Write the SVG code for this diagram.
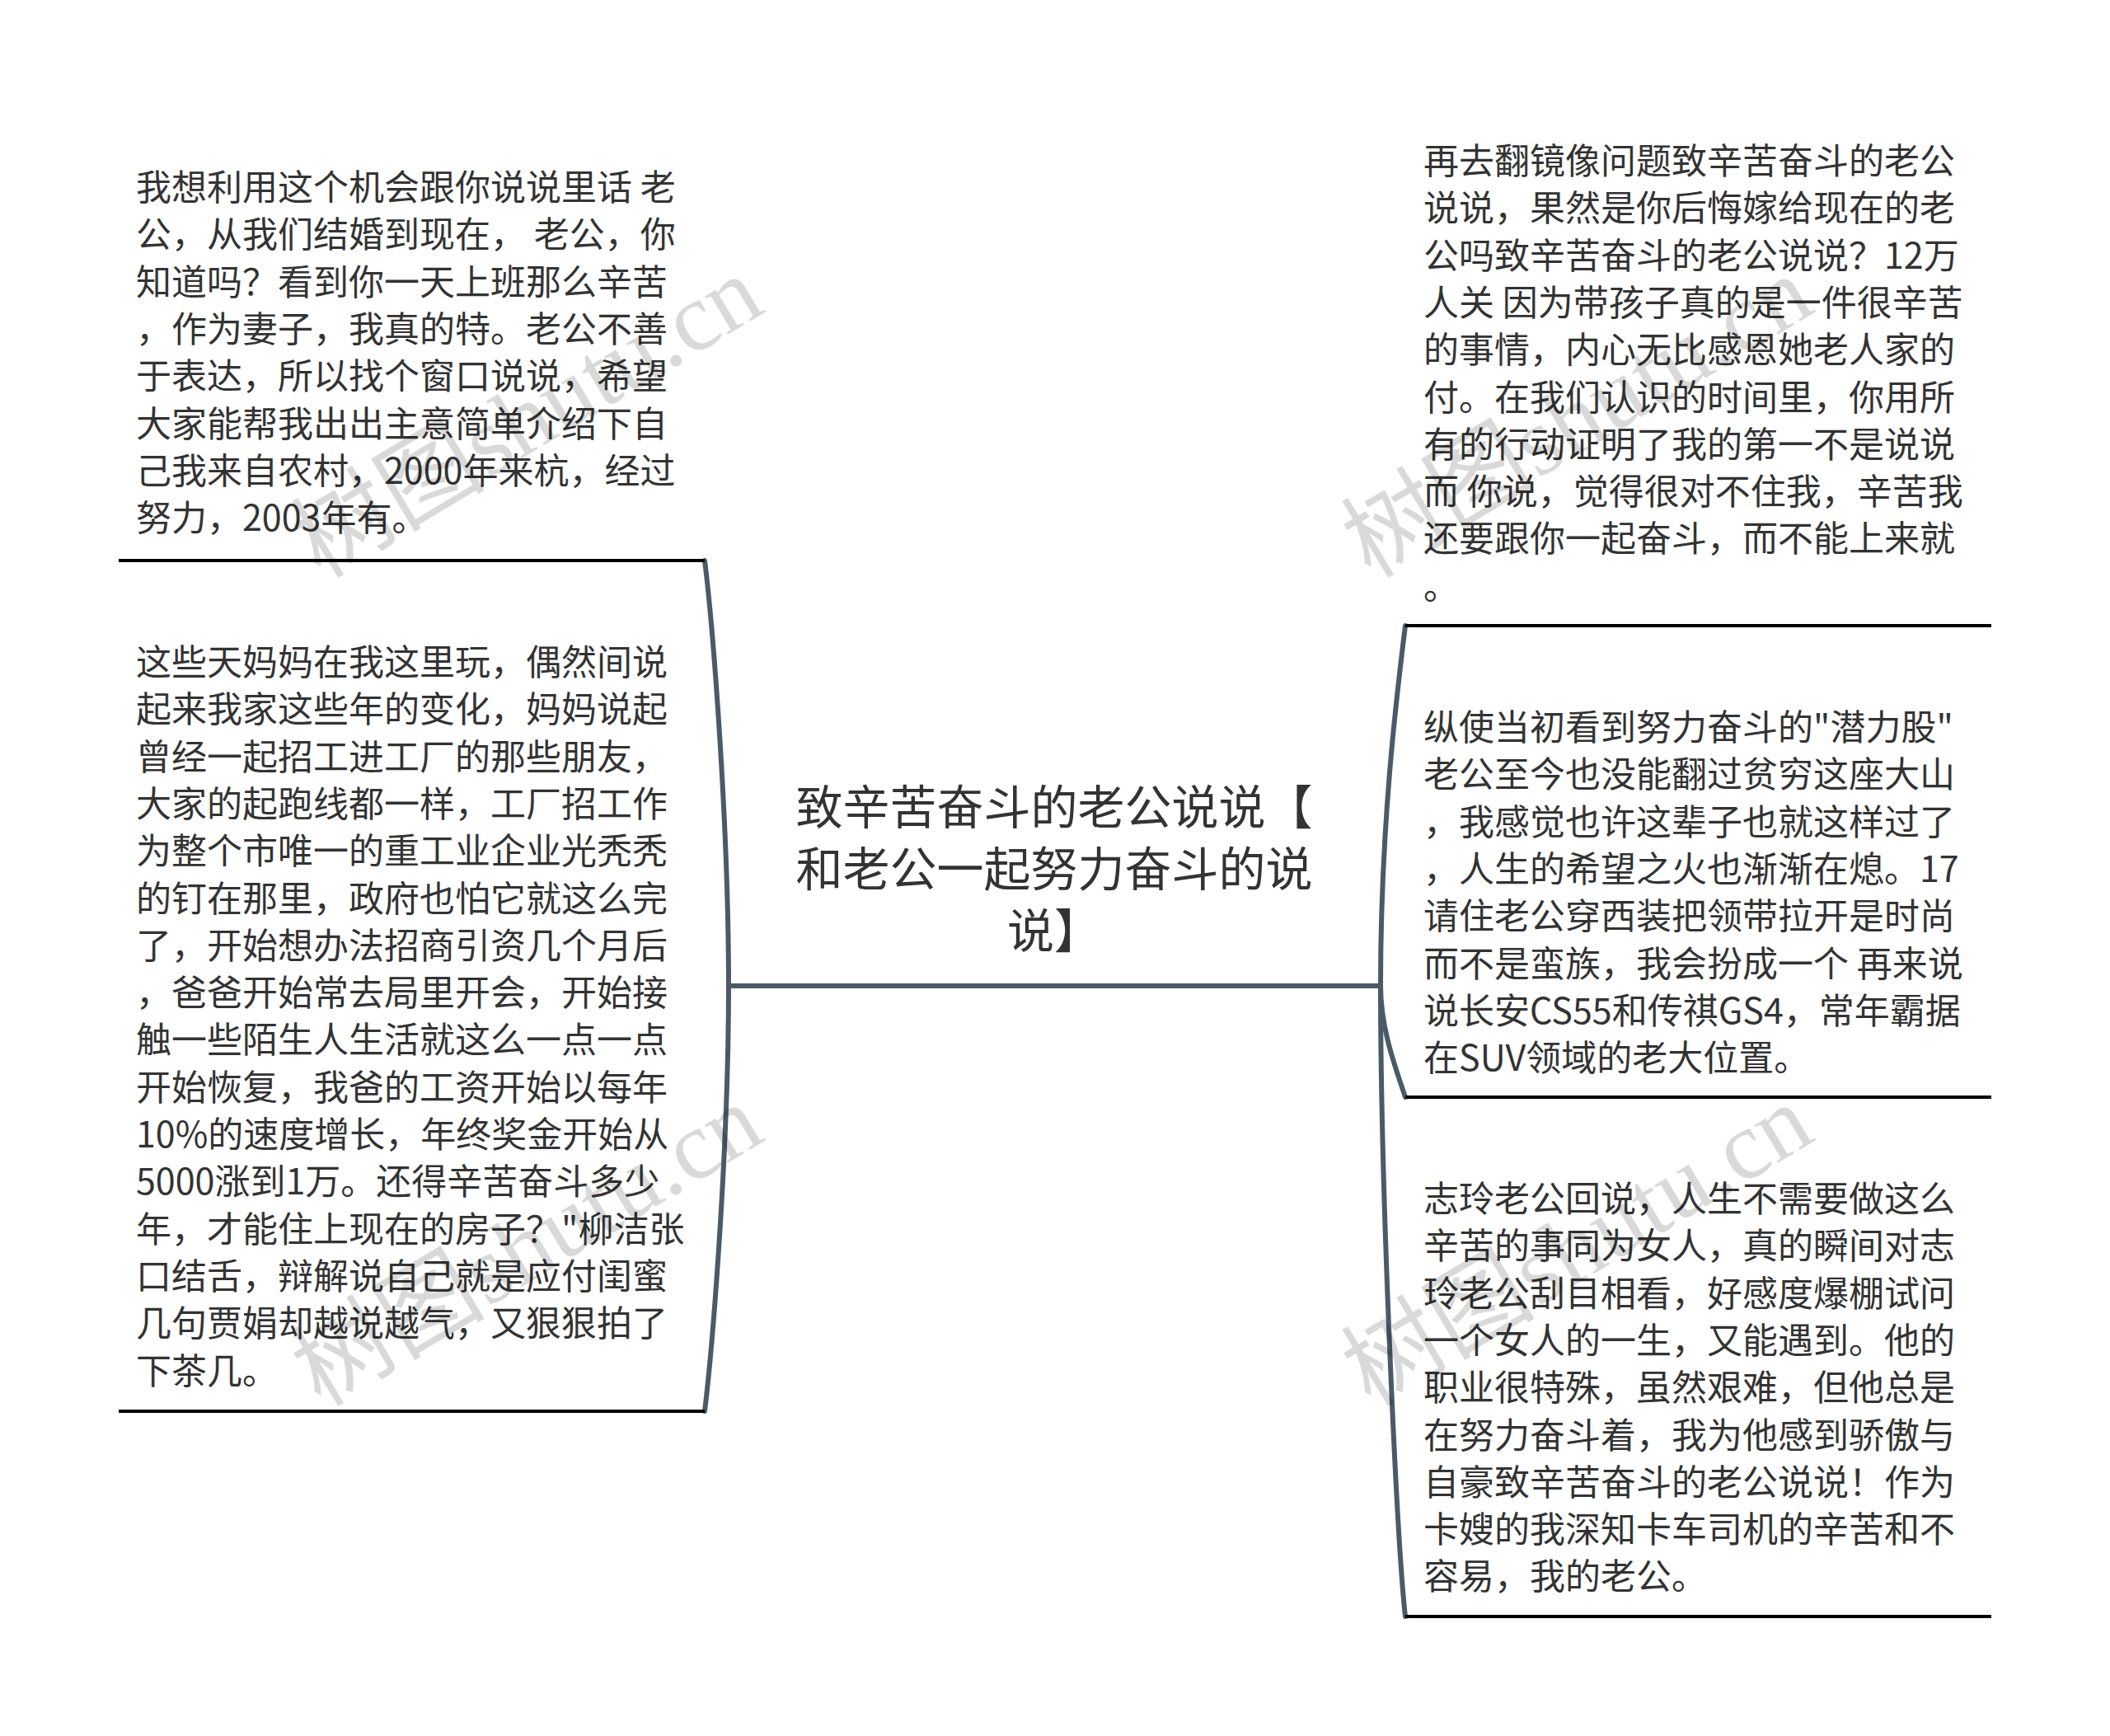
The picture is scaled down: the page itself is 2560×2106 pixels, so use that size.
<svg xmlns="http://www.w3.org/2000/svg" width="2560" height="2106" viewBox="0 0 2560 2106">
<style>
.t{font-family:"Noto Sans CJK SC","Noto Sans",sans-serif;font-size:43px;fill:#333333;}
.title{font-family:"Noto Sans CJK SC","Noto Sans",sans-serif;font-size:57px;fill:#333333;text-anchor:middle;}
.ul{stroke:#000000;stroke-width:4;fill:none;}
.c{stroke:#4b5a69;stroke-width:6;fill:none;stroke-linecap:round;}
.wm{font-family:"Liberation Serif","Noto Sans CJK SC",serif;font-size:118px;fill:#000000;fill-opacity:0.15;text-anchor:middle;}
</style>
<rect width="2560" height="2106" fill="#ffffff"/>
<g id="connectors">
<path class="c" d="M884 1196 L1675 1196"/>
<path class="c" d="M884 1196 C884 1000 865 760 855 680"/>
<path class="c" d="M884 1196 C884 1390 865 1630 855 1712"/>
<path class="c" d="M1675 1196 C1675 1000 1695 840 1705 759"/>
<path class="c" d="M1675 1196 C1675 1250 1695 1300 1705 1331"/>
<path class="c" d="M1675 1196 C1675 1450 1695 1870 1705 1961"/>
</g>
<g id="root">
<text class="title"><tspan x="1279" y="1000">致辛苦奋斗的老公说说【</tspan><tspan x="1279" y="1075">和老公一起努力奋斗的说</tspan><tspan x="1279" y="1150">说】</tspan></text>
</g>
<g id="left1">
<line class="ul" x1="144" y1="680" x2="855" y2="680"/>
<text class="t"><tspan x="165" y="243">我想利用这个机会跟你说说里话 老</tspan><tspan x="165" y="300.3">公，从我们结婚到现在， 老公，你</tspan><tspan x="165" y="357.6">知道吗？看到你一天上班那么辛苦</tspan><tspan x="165" y="414.9">，作为妻子，我真的特。老公不善</tspan><tspan x="165" y="472.2">于表达，所以找个窗口说说，希望</tspan><tspan x="165" y="529.5">大家能帮我出出主意简单介绍下自</tspan><tspan x="165" y="586.8">己我来自农村，2000年来杭，经过</tspan><tspan x="165" y="644.1">努力，2003年有。</tspan></text>
</g>
<g id="left2">
<line class="ul" x1="144" y1="1712" x2="855" y2="1712"/>
<text class="t"><tspan x="165" y="819">这些天妈妈在我这里玩，偶然间说</tspan><tspan x="165" y="876.3">起来我家这些年的变化，妈妈说起</tspan><tspan x="165" y="933.6">曾经一起招工进工厂的那些朋友，</tspan><tspan x="165" y="990.9">大家的起跑线都一样，工厂招工作</tspan><tspan x="165" y="1048.2">为整个市唯一的重工业企业光秃秃</tspan><tspan x="165" y="1105.5">的钉在那里，政府也怕它就这么完</tspan><tspan x="165" y="1162.8">了，开始想办法招商引资几个月后</tspan><tspan x="165" y="1220.1">，爸爸开始常去局里开会，开始接</tspan><tspan x="165" y="1277.4">触一些陌生人生活就这么一点一点</tspan><tspan x="165" y="1334.7">开始恢复，我爸的工资开始以每年</tspan><tspan x="165" y="1392">10%的速度增长，年终奖金开始从</tspan><tspan x="165" y="1449.3">5000涨到1万。还得辛苦奋斗多少</tspan><tspan x="165" y="1506.6">年，才能住上现在的房子？"柳洁张</tspan><tspan x="165" y="1563.9">口结舌，辩解说自己就是应付闺蜜</tspan><tspan x="165" y="1621.2">几句贾娟却越说越气，又狠狠拍了</tspan><tspan x="165" y="1678.5">下茶几。</tspan></text>
</g>
<g id="right1">
<line class="ul" x1="1705" y1="759" x2="2416" y2="759"/>
<text class="t"><tspan x="1727" y="211">再去翻镜像问题致辛苦奋斗的老公</tspan><tspan x="1727" y="268.3">说说，果然是你后悔嫁给现在的老</tspan><tspan x="1727" y="325.6">公吗致辛苦奋斗的老公说说？12万</tspan><tspan x="1727" y="382.9">人关 因为带孩子真的是一件很辛苦</tspan><tspan x="1727" y="440.2">的事情，内心无比感恩她老人家的</tspan><tspan x="1727" y="497.5">付。在我们认识的时间里，你用所</tspan><tspan x="1727" y="554.8">有的行动证明了我的第一不是说说</tspan><tspan x="1727" y="612.1">而 你说，觉得很对不住我，辛苦我</tspan><tspan x="1727" y="669.4">还要跟你一起奋斗，而不能上来就</tspan><tspan x="1727" y="726.7">。</tspan></text>
</g>
<g id="right2">
<line class="ul" x1="1705" y1="1331" x2="2416" y2="1331"/>
<text class="t"><tspan x="1727" y="898">纵使当初看到努力奋斗的"潜力股"</tspan><tspan x="1727" y="955.3">老公至今也没能翻过贫穷这座大山</tspan><tspan x="1727" y="1012.6">，我感觉也许这辈子也就这样过了</tspan><tspan x="1727" y="1069.9">，人生的希望之火也渐渐在熄。17</tspan><tspan x="1727" y="1127.2">请住老公穿西装把领带拉开是时尚</tspan><tspan x="1727" y="1184.5">而不是蛮族，我会扮成一个 再来说</tspan><tspan x="1727" y="1241.8">说长安CS55和传祺GS4，常年霸据</tspan><tspan x="1727" y="1299.1">在SUV领域的老大位置。</tspan></text>
</g>
<g id="right3">
<line class="ul" x1="1705" y1="1961" x2="2416" y2="1961"/>
<text class="t"><tspan x="1727" y="1470">志玲老公回说，人生不需要做这么</tspan><tspan x="1727" y="1527.3">辛苦的事同为女人，真的瞬间对志</tspan><tspan x="1727" y="1584.6">玲老公刮目相看，好感度爆棚试问</tspan><tspan x="1727" y="1641.9">一个女人的一生，又能遇到。他的</tspan><tspan x="1727" y="1699.2">职业很特殊，虽然艰难，但他总是</tspan><tspan x="1727" y="1756.5">在努力奋斗着，我为他感到骄傲与</tspan><tspan x="1727" y="1813.8">自豪致辛苦奋斗的老公说说！作为</tspan><tspan x="1727" y="1871.1">卡嫂的我深知卡车司机的辛苦和不</tspan><tspan x="1727" y="1928.4">容易，我的老公。</tspan></text>
</g>
<g id="watermarks">
<text class="wm" transform="translate(660 540) rotate(-31)">树图shutu.cn</text>
<text class="wm" transform="translate(1934 540) rotate(-31)">树图shutu.cn</text>
<text class="wm" transform="translate(660 1545) rotate(-31)">树图shutu.cn</text>
<text class="wm" transform="translate(1934 1545) rotate(-31)">树图shutu.cn</text>
</g>
</svg>
